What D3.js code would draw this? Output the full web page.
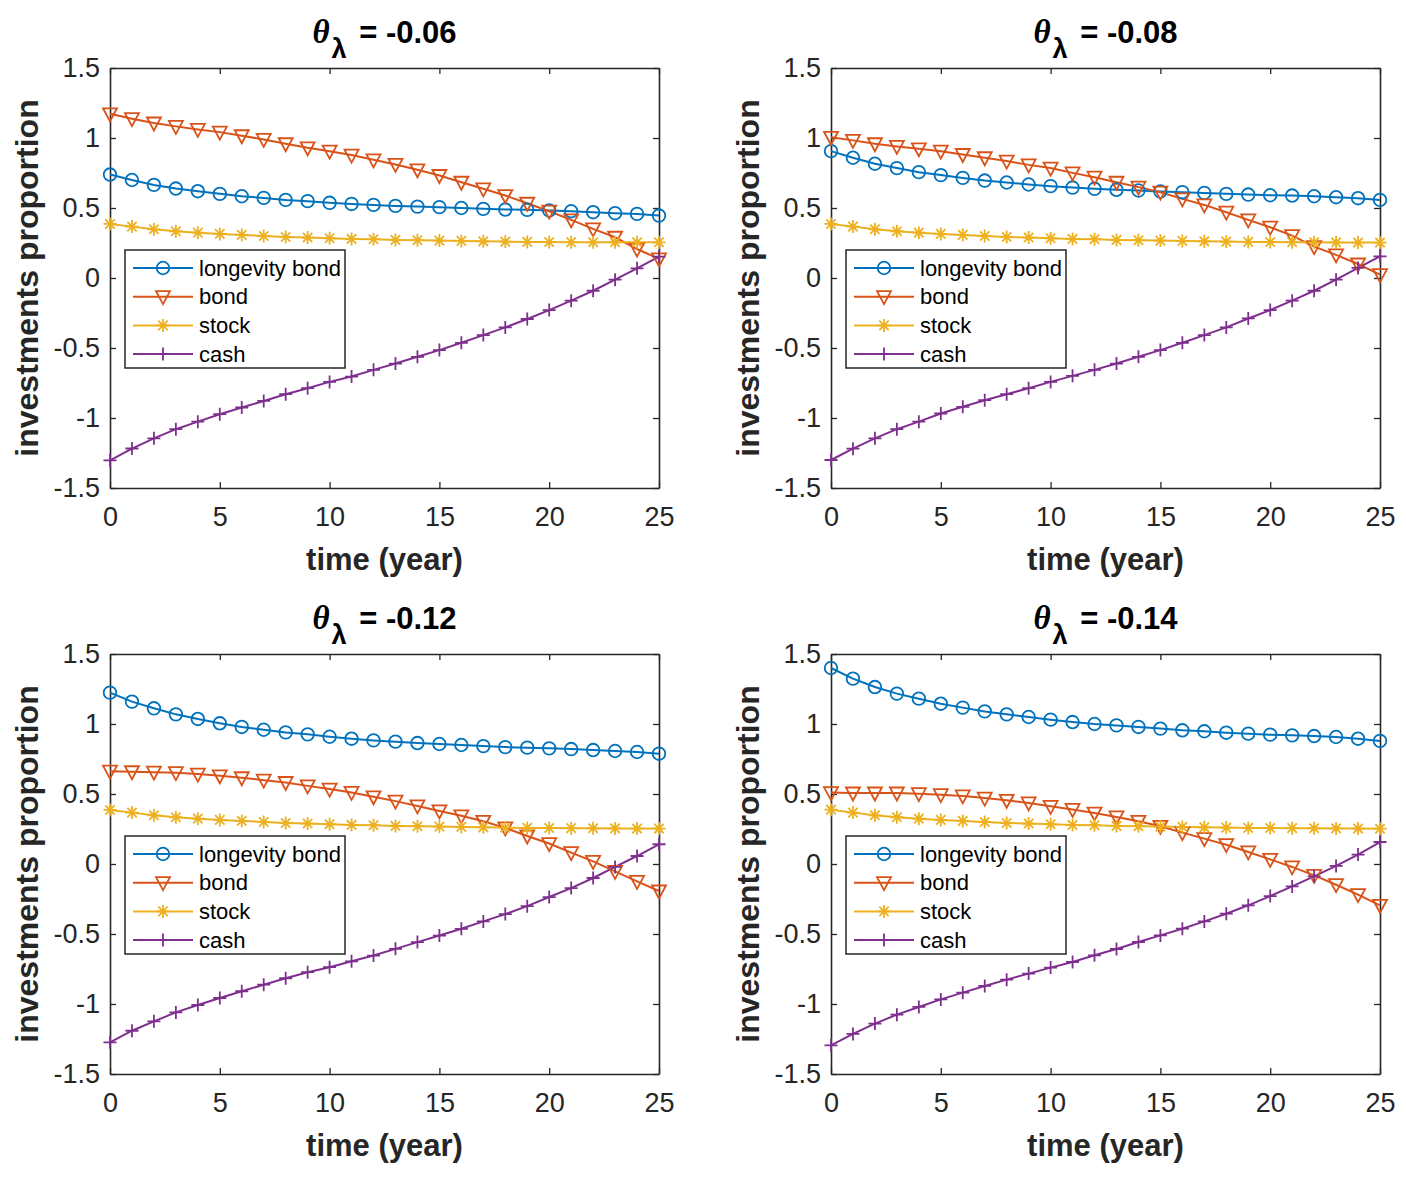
<!DOCTYPE html>
<html>
<head>
<meta charset="utf-8">
<script src="https://cdn.jsdelivr.net/npm/d3@7"></script>
<style>
  body { margin: 0; background: #fff; }
  svg text { font-family: "Liberation Sans", Arial, Helvetica, sans-serif; }
</style>
</head>
<body>
<svg width="1406" height="1180"></svg>
<script>
// time axis, one point per year
const years = d3.range(0, 26);
const thetas = ["-0.06", "-0.08", "-0.12", "-0.14"];
const seriesNames = ["longevity bond", "bond", "stock", "cash"];
const xTicks = [0, 5, 10, 15, 20, 25];
const yTicks = [-1.5, -1, -0.5, 0, 0.5, 1, 1.5];

// values, one array per panel and series
const longevity1 = [0.739, 0.700, 0.665, 0.639, 0.620, 0.601, 0.584, 0.572, 0.558, 0.549, 0.537, 0.529, 0.522, 0.515, 0.510, 0.506, 0.500, 0.494, 0.489, 0.487, 0.482, 0.477, 0.470, 0.463, 0.458, 0.446];
const bond1 = [1.173, 1.138, 1.107, 1.083, 1.061, 1.042, 1.016, 0.990, 0.959, 0.930, 0.906, 0.878, 0.844, 0.811, 0.773, 0.732, 0.684, 0.637, 0.589, 0.534, 0.477, 0.415, 0.351, 0.291, 0.207, 0.136];
const stock1 = [0.386, 0.367, 0.348, 0.334, 0.324, 0.315, 0.308, 0.300, 0.293, 0.289, 0.284, 0.279, 0.277, 0.272, 0.270, 0.267, 0.265, 0.262, 0.260, 0.258, 0.257, 0.256, 0.255, 0.255, 0.255, 0.255];
const cash1 = [-1.302, -1.218, -1.145, -1.080, -1.026, -0.973, -0.925, -0.878, -0.830, -0.787, -0.742, -0.704, -0.656, -0.611, -0.563, -0.515, -0.463, -0.408, -0.353, -0.293, -0.229, -0.162, -0.091, -0.012, 0.069, 0.153];

const longevity2 = [0.906, 0.859, 0.816, 0.785, 0.756, 0.735, 0.715, 0.696, 0.682, 0.668, 0.656, 0.646, 0.637, 0.630, 0.625, 0.618, 0.613, 0.608, 0.601, 0.596, 0.591, 0.589, 0.584, 0.577, 0.570, 0.558];
const bond2 = [1.005, 0.983, 0.959, 0.940, 0.923, 0.906, 0.882, 0.859, 0.835, 0.808, 0.785, 0.751, 0.720, 0.684, 0.649, 0.613, 0.565, 0.522, 0.470, 0.415, 0.363, 0.303, 0.224, 0.165, 0.100, 0.024];
const stock2 = [0.386, 0.367, 0.348, 0.334, 0.324, 0.315, 0.308, 0.300, 0.293, 0.289, 0.284, 0.279, 0.277, 0.272, 0.270, 0.267, 0.265, 0.262, 0.260, 0.258, 0.257, 0.256, 0.255, 0.254, 0.253, 0.253];
const cash2 = [-1.300, -1.219, -1.145, -1.080, -1.026, -0.968, -0.920, -0.873, -0.830, -0.787, -0.742, -0.699, -0.656, -0.611, -0.563, -0.515, -0.463, -0.408, -0.353, -0.289, -0.229, -0.162, -0.091, -0.012, 0.072, 0.155];

const longevity3 = [1.224, 1.160, 1.112, 1.069, 1.036, 1.005, 0.979, 0.959, 0.940, 0.926, 0.909, 0.895, 0.883, 0.874, 0.864, 0.857, 0.850, 0.842, 0.835, 0.831, 0.826, 0.821, 0.814, 0.807, 0.800, 0.788];
const bond3 = [0.663, 0.659, 0.656, 0.652, 0.642, 0.630, 0.616, 0.599, 0.582, 0.558, 0.535, 0.511, 0.480, 0.449, 0.415, 0.379, 0.344, 0.305, 0.258, 0.200, 0.146, 0.081, 0.019, -0.053, -0.124, -0.193];
const stock3 = [0.386, 0.367, 0.348, 0.334, 0.324, 0.315, 0.308, 0.300, 0.293, 0.289, 0.284, 0.279, 0.277, 0.272, 0.270, 0.267, 0.265, 0.262, 0.260, 0.258, 0.257, 0.256, 0.255, 0.254, 0.253, 0.253];
const cash3 = [-1.274, -1.191, -1.124, -1.060, -1.007, -0.957, -0.909, -0.862, -0.816, -0.773, -0.737, -0.695, -0.654, -0.606, -0.558, -0.511, -0.463, -0.410, -0.358, -0.301, -0.236, -0.172, -0.100, -0.021, 0.057, 0.141];

const longevity4 = [1.400, 1.324, 1.264, 1.217, 1.181, 1.145, 1.117, 1.090, 1.069, 1.050, 1.031, 1.014, 1.000, 0.990, 0.979, 0.967, 0.955, 0.948, 0.938, 0.931, 0.924, 0.919, 0.914, 0.907, 0.895, 0.879];
const bond4 = [0.510, 0.507, 0.507, 0.507, 0.502, 0.495, 0.486, 0.471, 0.455, 0.436, 0.412, 0.390, 0.364, 0.336, 0.305, 0.269, 0.224, 0.181, 0.138, 0.086, 0.033, -0.021, -0.081, -0.148, -0.219, -0.295];
const stock4 = [0.388, 0.367, 0.348, 0.334, 0.324, 0.315, 0.308, 0.300, 0.293, 0.289, 0.284, 0.279, 0.277, 0.272, 0.270, 0.267, 0.265, 0.262, 0.260, 0.258, 0.257, 0.256, 0.255, 0.254, 0.253, 0.252];
const cash4 = [-1.295, -1.214, -1.140, -1.076, -1.021, -0.967, -0.919, -0.871, -0.826, -0.783, -0.740, -0.700, -0.652, -0.607, -0.557, -0.510, -0.462, -0.410, -0.355, -0.295, -0.229, -0.160, -0.088, -0.014, 0.067, 0.157];

const panels = [
    { theta: thetas[0], series: [longevity1, bond1, stock1, cash1] },
    { theta: thetas[1], series: [longevity2, bond2, stock2, cash2] },
    { theta: thetas[2], series: [longevity3, bond3, stock3, cash3] },
    { theta: thetas[3], series: [longevity4, bond4, stock4, cash4] }
];

const colors = ["#0072BD", "#D95319", "#EDB120", "#7E2F8E"];
const markers = ["circle", "triangle", "star", "plus"];

const svg = d3.select('svg');
const plotW = 549, plotH = 420;
// top-left corner of each plot area
const origins = [[110, 68], [831, 68], [110, 654], [831, 654]];
const axisColor = "#262626";

// draws a marker path centered at 0,0
function markerPath(type) {
    const p = d3.path();
    if (type === "circle") {
        p.arc(0, 0, 6.3, 0, 2 * Math.PI);
    } else if (type === "triangle") {
        p.moveTo(-7, -5.5); p.lineTo(7, -5.5); p.lineTo(0, 7.5); p.closePath();
    } else if (type === "star") {
        const r = 6.5;
        p.moveTo(-r, 0); p.lineTo(r, 0);
        p.moveTo(0, -r); p.lineTo(0, r);
        const d = r * 0.72;
        p.moveTo(-d, -d); p.lineTo(d, d);
        p.moveTo(-d, d); p.lineTo(d, -d);
    } else {
        p.moveTo(-6.5, 0); p.lineTo(6.5, 0);
        p.moveTo(0, -6.5); p.lineTo(0, 6.5);
    }
    return p.toString();
}

panels.forEach((panel, i) => {
    const g = svg.append('g')
        .attr('transform', "translate(" + origins[i][0] + "," + origins[i][1] + ")");

    const xScale = d3.scaleLinear().domain([0, 25]).range([0, plotW]);
    const yScale = d3.scaleLinear().domain([-1.5, 1.5]).range([plotH, 0]);

    // axes with ticks pointing inward, box on all four sides
    const xAxis = g.append('g')
        .attr('transform', "translate(0," + plotH + ")")
        .call(d3.axisBottom(xScale).tickValues(xTicks).tickSizeInner(-6).tickSizeOuter(0).tickPadding(19));
    g.append('g')
        .call(d3.axisLeft(yScale).tickValues(yTicks).tickSizeInner(-6).tickSizeOuter(0).tickPadding(10).tickFormat(d => String(d)));
    g.append('g')
        .call(d3.axisTop(xScale).tickValues(xTicks).tickSizeInner(-6).tickSizeOuter(0).tickFormat(""));
    g.append('g')
        .attr('transform', "translate(" + plotW + ",0)")
        .call(d3.axisRight(yScale).tickValues(yTicks).tickSizeInner(-6).tickSizeOuter(0).tickFormat(""));

    g.selectAll('.domain').attr('stroke', axisColor).attr('stroke-width', 1.6);
    g.selectAll('.tick line').attr('stroke', axisColor).attr('stroke-width', 1.3);
    g.selectAll('.tick text')
        .attr('fill', axisColor)
        .style('font-size', '27px')
        .style('font-family', '"Liberation Sans", Arial, sans-serif');
    xAxis.selectAll('.tick text').attr('dy', '0.71em');

    // series lines and markers
    const line = d3.line()
        .x((d, j) => xScale(years[j]))
        .y(d => yScale(d));

    panel.series.forEach((vals, s) => {
        g.append('path')
            .datum(vals)
            .attr('d', line)
            .attr('fill', 'none')
            .attr('stroke', colors[s])
            .attr('stroke-width', 2);
    });
    panel.series.forEach((vals, s) => {
        g.selectAll('.m' + s)
            .data(vals)
            .enter()
            .append('path')
            .attr('class', 'm' + s)
            .attr('transform', (d, j) => "translate(" + xScale(years[j]) + "," + yScale(d) + ")")
            .attr('d', markerPath(markers[s]))
            .attr('fill', 'none')
            .attr('stroke', colors[s])
            .attr('stroke-width', 1.8);
    });

    // title: theta_lambda = value
    const title = g.append('text')
        .attr('x', plotW / 2)
        .attr('y', -25)
        .attr('text-anchor', 'middle')
        .attr('fill', '#000')
        .style('font-size', '31px')
        .style('font-weight', 'bold');
    title.append('tspan')
        .style('font-family', '"Liberation Serif", "Times New Roman", serif')
        .style('font-style', 'italic')
        .style('font-size', '33px')
        .text('θ');
    title.append('tspan')
        .attr('dy', 15)
        .attr('dx', 2)
        .style('font-size', '27px')
        .text('λ');
    title.append('tspan')
        .attr('dy', -15)
        .attr('dx', 4)
        .text(' = ' + panel.theta);

    // axis labels
    g.append('text')
        .attr('x', plotW / 2)
        .attr('y', plotH + 82)
        .attr('text-anchor', 'middle')
        .attr('fill', axisColor)
        .style('font-size', '31px')
        .style('font-weight', 'bold')
        .text('time (year)');
    g.append('text')
        .attr('transform', "translate(" + (-72) + "," + (plotH / 2) + ") rotate(-90)")
        .attr('text-anchor', 'middle')
        .attr('fill', axisColor)
        .style('font-size', '32px')
        .style('font-weight', 'bold')
        .text('investments proportion');

    // legend box
    const lg = g.append('g').attr('transform', "translate(15,182)");
    lg.append('rect')
        .attr('width', 220)
        .attr('height', 118)
        .attr('fill', '#fff')
        .attr('stroke', axisColor)
        .attr('stroke-width', 1.5);
    seriesNames.forEach((name, s) => {
        const yy = 18 + s * 28.7;
        lg.append('line')
            .attr('x1', 8).attr('x2', 68)
            .attr('y1', yy).attr('y2', yy)
            .attr('stroke', colors[s])
            .attr('stroke-width', 2);
        lg.append('path')
            .attr('transform', "translate(38," + yy + ")")
            .attr('d', markerPath(markers[s]))
            .attr('fill', 'none')
            .attr('stroke', colors[s])
            .attr('stroke-width', 1.8);
        lg.append('text')
            .attr('x', 74)
            .attr('y', yy)
            .attr('dy', '0.35em')
            .attr('fill', '#000')
            .style('font-size', '22px')
            .text(name);
    });
});
</script>
</body>
</html>
